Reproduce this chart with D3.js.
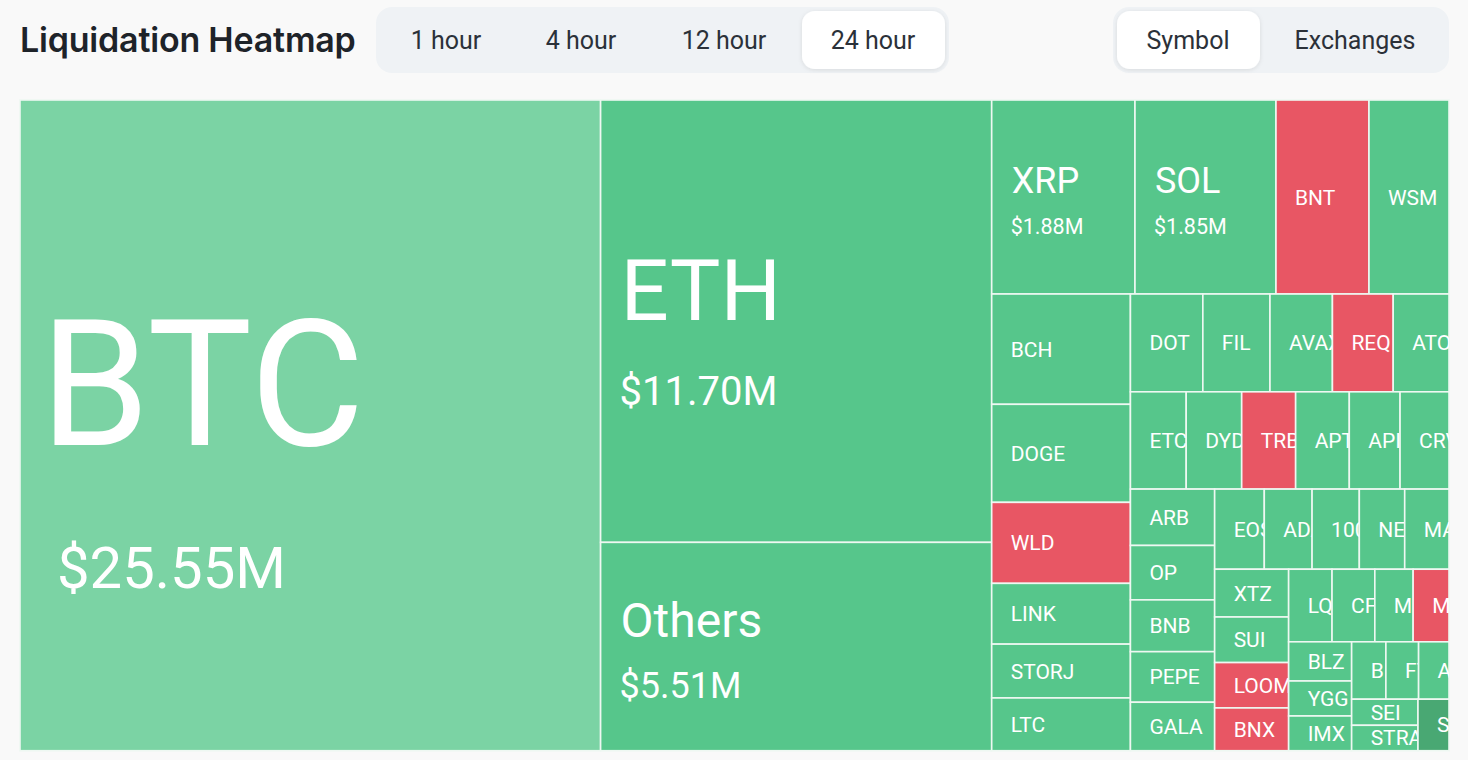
<!DOCTYPE html>
<html><head><meta charset="utf-8">
<script src="https://cdn.jsdelivr.net/npm/d3@7"></script>
<style>
html,body{margin:0;padding:0;background:#f9f9f9;}
svg{display:block;}
</style></head><body>
<svg id="chart" width="1468" height="760"></svg>
<script>
// ---------- DATA ----------
const symbols = ["BTC","ETH","Others","XRP","SOL","BNT","WSM","BCH","DOGE","WLD","LINK","STORJ","LTC",
  "DOT","FIL","AVAX","REQ","ATOM","ETC","DYDX","TRB","APT","API3","CRV","ARB","OP","BNB","PEPE","GALA",
  "EOS","ADA","1000SATS","NEAR","MATIC","XTZ","SUI","LOOM","BNX","LQTY","CFX","MKR","MEME","BLZ","YGG","IMX",
  "BLUR","FTM","ARKM","SEI","STRAX","SUSHI"];
// liquidation volume, millions of USD
const liquidations = [25.55,11.70,5.51,1.88,1.85,1.22,1.05,1.035,0.92,0.76,0.57,0.505,0.495,
  0.479,0.444,0.413,0.402,0.369,0.367,0.365,0.355,0.353,0.334,0.322,0.321,0.310,0.295,0.288,0.276,
  0.269,0.259,0.256,0.246,0.240,0.239,0.228,0.227,0.214,0.213,0.210,0.188,0.176,0.167,0.149,0.148,
  0.133,0.127,0.118,0.117,0.114,0.108];
// which side dominates the liquidations
const dominant = ["long","long","long","long","long","short","long","long","long","short","long","long","long",
  "long","long","long","short","long","long","long","short","long","long","long","long","long","long","long","long",
  "long","long","long","long","long","long","long","short","short","long","long","long","short","long","long","long",
  "long","long","long","long","long","long"];
const selectedSymbol = "BTC";
const hoveredSymbol = "SUSHI";
const timeTabs = ["1 hour","4 hour","12 hour","24 hour"];
const activeTime = "24 hour";
const viewTabs = ["Symbol","Exchanges"];
const activeView = "Symbol";

// ---------- STYLE ----------
const COL = {long:"#56c68b", short:"#e85664", selected:"#7bd3a4", hovered:"#49a873"};
const FONT = "Roboto, 'Noto Sans', sans-serif";
// label styles for the large tiles (offsets relative to tile centre)
const bigLabel = {
  BTC:    {ns:176, vs:58, ndy:20,  vdy:163, vdx:37},
  ETH:    {ns:85,  vs:40, ndy:-1,  vdy:84,  vdx:19},
  Others: {ns:48,  vs:36, ndy:-10, vdy:51,  vdx:19},
  XRP:    {ns:36,  vs:21.5, ndy:-4, vdy:37, vdx:19},
  SOL:    {ns:36,  vs:21.5, ndy:-4, vdy:37, vdx:19}
};

const svg = d3.select("#chart");
const defs = svg.append("defs");
const f = defs.append("filter").attr("id","sh").attr("x","-20%").attr("y","-20%").attr("width","140%").attr("height","150%");
f.append("feDropShadow").attr("dx",0).attr("dy",1).attr("stdDeviation",2).attr("flood-color","#000").attr("flood-opacity",0.10);

// ---------- HEADER ----------
svg.append("text").attr("x",20).attr("y",52)
  .attr("font-family","Inter, 'Noto Sans', sans-serif").attr("font-weight",600)
  .attr("font-size",34).attr("letter-spacing",-0.2).attr("fill","#1e2329")
  .text("Liquidation Heatmap");

function tabGroup(tabs, active, x, w, centers, pillX, pillW){
  const g = svg.append("g");
  g.append("rect").attr("x",x).attr("y",7).attr("width",w).attr("height",66).attr("rx",16).attr("fill","#eff2f5");
  g.append("rect").attr("x",pillX).attr("y",11).attr("width",pillW).attr("height",58).attr("rx",13)
    .attr("fill","#fff").attr("filter","url(#sh)");
  g.selectAll("text.tab").data(tabs).join("text").attr("class","tab")
    .attr("x",(d,i)=>centers[i]).attr("y",49).attr("text-anchor","middle")
    .attr("font-family",FONT).attr("font-size",25).attr("fill","#2b3139")
    .text(d=>d);
}
tabGroup(timeTabs, activeTime, 376, 573, [446,581,724,873], 802, 143);
tabGroup(viewTabs, activeView, 1113, 336, [1188,1355], 1117, 143);

// ---------- TREEMAP ----------
const X0 = 20, Y0 = 100, W = 1429, H = 650.7;
const data = {name:"root", children: symbols.map((s,i)=>({name:s, value:liquidations[i], side:dominant[i]}))};
const root = d3.hierarchy(data).sum(d=>d.value||0).sort((a,b)=>b.value-a.value);
d3.treemap().tile(d3.treemapSquarify).size([W,H]).paddingInner(0)(root);

const g = svg.append("g").attr("transform",`translate(${X0},${Y0})`);
const leaves = root.leaves();
const cell = g.selectAll("g.cell").data(leaves).join("g").attr("class","cell");

cell.each(function(d,i){
  defs.append("clipPath").attr("id","c"+i).append("rect")
    .attr("x",d.x0).attr("y",d.y0).attr("width",d.x1-d.x0).attr("height",d.y1-d.y0);
});

cell.append("rect")
  .attr("x",d=>d.x0).attr("y",d=>d.y0)
  .attr("width",d=>d.x1-d.x0).attr("height",d=>d.y1-d.y0)
  .attr("fill",d=> d.data.name===selectedSymbol ? COL.selected : d.data.name===hoveredSymbol ? COL.hovered : COL[d.data.side])
  .attr("stroke","#eef8f2").attr("stroke-width",1.6);

cell.each(function(d,i){
  const sel = d3.select(this).append("g").attr("clip-path",`url(#c${i})`);
  const cy = (d.y0+d.y1)/2;
  const st = bigLabel[d.data.name];
  if(st){
    sel.append("text").attr("x",d.x0+20).attr("y",cy+st.ndy)
      .attr("font-family",FONT).attr("font-size",st.ns).attr("fill","#fff").text(d.data.name);
    sel.append("text").attr("x",d.x0+st.vdx).attr("y",cy+st.vdy)
      .attr("font-family",FONT).attr("font-size",st.vs).attr("fill","#fff")
      .text("$"+d.data.value.toFixed(2)+"M");
  } else {
    sel.append("text").attr("x",d.x0+19).attr("y",cy+7.5)
      .attr("font-family",FONT).attr("font-size",21).attr("fill","#fff").text(d.data.name);
  }
});
</script>
</body></html>
